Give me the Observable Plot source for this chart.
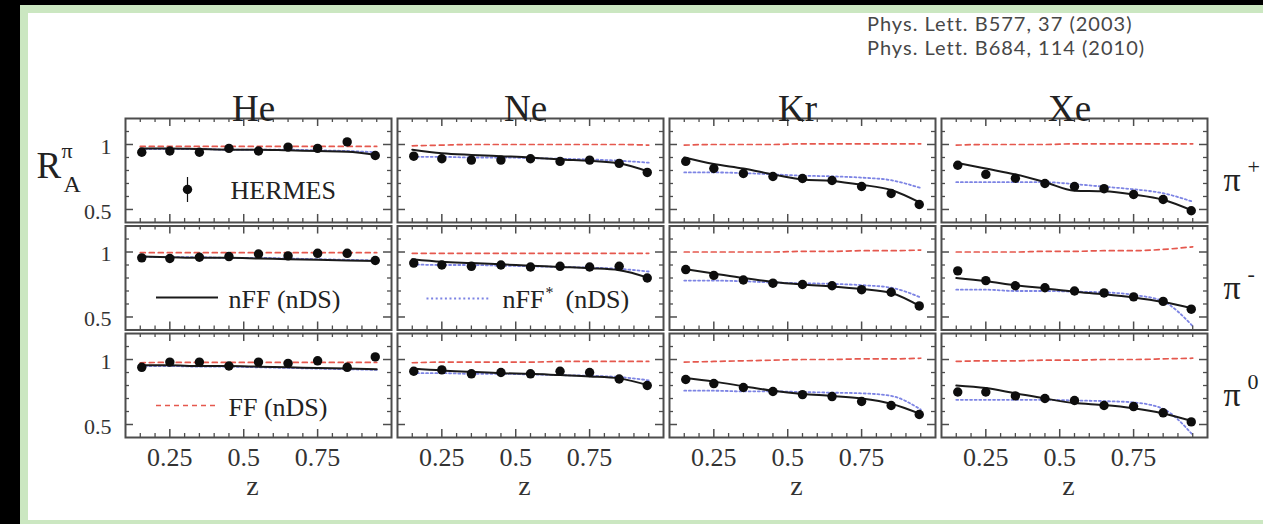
<!DOCTYPE html>
<html>
<head>
<meta charset="utf-8">
<script src="https://cdn.jsdelivr.net/npm/d3@7"></script>
<script src="https://cdn.jsdelivr.net/npm/@observablehq/plot@0.6"></script>
<style>
  html, body { margin: 0; padding: 0; background: #000; width: 1263px; height: 524px; overflow: hidden; }
  #border { position: absolute; left: 20px; top: 5px; width: 1243px; height: 519px; background: #cbe7c1; }
  #paper { position: absolute; left: 28px; top: 13px; width: 1235px; height: 507px; background: #fff; }
  #chart { position: absolute; left: 0; top: 0; }
  #cite { position: absolute; left: 867px; top: 11px; font-family: Lato, "Open Sans", sans-serif; font-size: 20px; letter-spacing: 1px; line-height: 24px; color: #474747; white-space: nowrap; }
</style>
</head>
<body>
<div id="border"></div>
<div id="paper"></div>
<div id="chart"></div>
<div id="cite"><div>Phys. Lett. B577, 37 (2003)</div><div>Phys. Lett. B684, 114 (2010)</div></div>
<script>
// ---------- data ----------
const elements = ["He", "Ne", "Kr", "Xe"];
const mesons = ["π+", "π-", "π0"];
const mesonCharge = ["+", "-", "0"];

const zBins = [0.155, 0.25, 0.35, 0.45, 0.55, 0.65, 0.75, 0.85, 0.945];
const zModel = [0.15, 0.25, 0.35, 0.45, 0.55, 0.65, 0.75, 0.85, 0.95];

// HERMES R_A (rows: π+, π-, π0)
const hermesHe = [
  [0.94, 0.95, 0.94, 0.97, 0.95, 0.98, 0.97, 1.02, 0.915],
  [0.955, 0.95, 0.96, 0.965, 0.985, 0.97, 0.99, 0.99, 0.935],
  [0.94, 0.98, 0.98, 0.95, 0.98, 0.97, 0.99, 0.94, 1.02]
];
const hermesNe = [
  [0.91, 0.89, 0.88, 0.88, 0.89, 0.87, 0.88, 0.855, 0.785],
  [0.915, 0.90, 0.89, 0.90, 0.885, 0.89, 0.885, 0.89, 0.80],
  [0.91, 0.92, 0.89, 0.90, 0.89, 0.91, 0.90, 0.85, 0.80]
];
const hermesKr = [
  [0.87, 0.815, 0.777, 0.754, 0.738, 0.723, 0.677, 0.623, 0.538],
  [0.865, 0.82, 0.785, 0.76, 0.75, 0.74, 0.71, 0.69, 0.585],
  [0.846, 0.815, 0.785, 0.754, 0.73, 0.715, 0.677, 0.646, 0.577]
];
const hermesXe = [
  [0.84, 0.77, 0.74, 0.70, 0.677, 0.66, 0.615, 0.577, 0.49],
  [0.855, 0.78, 0.74, 0.725, 0.70, 0.685, 0.655, 0.62, 0.56],
  [0.75, 0.75, 0.72, 0.70, 0.685, 0.646, 0.638, 0.59, 0.52]
];

// nFF (nDS) — solid
const nffHe = [
  [0.97, 0.97, 0.965, 0.96, 0.96, 0.955, 0.95, 0.945, 0.92],
  [0.965, 0.96, 0.955, 0.955, 0.95, 0.945, 0.94, 0.935, 0.93],
  [0.955, 0.955, 0.95, 0.95, 0.945, 0.94, 0.935, 0.93, 0.925]
];
const nffNe = [
  [0.96, 0.933, 0.92, 0.91, 0.90, 0.885, 0.875, 0.855, 0.79],
  [0.945, 0.925, 0.915, 0.905, 0.895, 0.885, 0.875, 0.86, 0.80],
  [0.93, 0.915, 0.905, 0.895, 0.89, 0.88, 0.87, 0.855, 0.80]
];
const nffKr = [
  [0.90, 0.85, 0.815, 0.77, 0.73, 0.72, 0.69, 0.65, 0.55],
  [0.87, 0.835, 0.80, 0.77, 0.75, 0.735, 0.715, 0.685, 0.58],
  [0.86, 0.83, 0.795, 0.76, 0.735, 0.72, 0.70, 0.66, 0.58]
];
const nffXe = [
  [0.86, 0.815, 0.77, 0.71, 0.645, 0.64, 0.615, 0.575, 0.49],
  [0.80, 0.775, 0.745, 0.72, 0.695, 0.675, 0.65, 0.615, 0.565],
  [0.80, 0.78, 0.74, 0.70, 0.665, 0.65, 0.625, 0.585, 0.525]
];

// nFF* (nDS) — dotted
const nffStarHe = [
  [0.965, 0.965, 0.965, 0.96, 0.96, 0.96, 0.955, 0.95, 0.94],
  [0.965, 0.96, 0.96, 0.955, 0.955, 0.95, 0.945, 0.94, 0.935],
  [0.95, 0.95, 0.945, 0.945, 0.94, 0.935, 0.93, 0.925, 0.92]
];
const nffStarNe = [
  [0.905, 0.905, 0.90, 0.90, 0.895, 0.89, 0.885, 0.875, 0.86],
  [0.905, 0.90, 0.90, 0.895, 0.89, 0.885, 0.88, 0.87, 0.85],
  [0.895, 0.895, 0.89, 0.89, 0.885, 0.88, 0.875, 0.865, 0.84]
];
const nffStarKr = [
  [0.785, 0.785, 0.78, 0.77, 0.76, 0.755, 0.745, 0.725, 0.665],
  [0.78, 0.78, 0.775, 0.765, 0.76, 0.755, 0.745, 0.725, 0.65],
  [0.76, 0.76, 0.755, 0.755, 0.75, 0.745, 0.74, 0.72, 0.615]
];
const nffStarXe = [
  [0.71, 0.71, 0.71, 0.71, 0.695, 0.675, 0.655, 0.625, 0.56],
  [0.71, 0.71, 0.70, 0.70, 0.695, 0.69, 0.67, 0.62, 0.43],
  [0.69, 0.69, 0.69, 0.69, 0.685, 0.68, 0.67, 0.62, 0.42]
];

// FF (nDS) — dashed
const ffHe = [
  [0.985, 0.985, 0.985, 0.985, 0.985, 0.985, 0.985, 0.985, 0.985],
  [0.995, 0.995, 0.995, 0.995, 0.995, 0.995, 0.995, 0.995, 0.995],
  [0.975, 0.978, 0.978, 0.978, 0.978, 0.978, 0.978, 0.978, 0.978]
];
const ffNe = [
  [0.99, 0.995, 1.0, 1.0, 1.0, 1.0, 1.0, 1.0, 0.995],
  [0.99, 0.99, 0.99, 0.99, 0.99, 0.99, 0.99, 0.99, 0.99],
  [0.975, 0.98, 0.98, 0.98, 0.98, 0.985, 0.985, 0.985, 0.985]
];
const ffKr = [
  [0.995, 1.0, 1.0, 1.0, 1.005, 1.005, 1.005, 1.005, 1.005],
  [1.0, 1.0, 1.0, 1.0, 1.005, 1.005, 1.01, 1.01, 1.015],
  [0.98, 0.985, 0.99, 0.995, 1.0, 1.0, 1.005, 1.005, 1.01]
];
const ffXe = [
  [0.995, 1.0, 1.0, 1.0, 1.005, 1.005, 1.005, 1.005, 1.005],
  [1.0, 1.0, 1.0, 1.005, 1.005, 1.01, 1.01, 1.02, 1.04],
  [0.985, 0.99, 0.99, 0.995, 0.995, 1.0, 1.0, 1.005, 1.01]
];

// axis ticks
const xLabelTicks = [0.25, 0.5, 0.75];
const xMinorTicks = [0.15, 0.2, 0.3, 0.35, 0.4, 0.45, 0.55, 0.6, 0.65, 0.7, 0.8, 0.85, 0.9, 0.95];
const yLabelTicks = [0.5, 1];
const yMinorTicks = [0.6, 0.7, 0.8, 0.9, 1.1];

// legend labels
const legendHermes = ["HERMES"];
const legendNff = ["nFF (nDS)"];
const legendFf = ["FF (nDS)"];
const legendNffStar = ["nFF", "*", "(nDS)"];

// ---------- tables ----------
function toRows(tables, zs) {
  return elements.flatMap((e, ei) => tables[ei].flatMap((vals, mi) =>
    vals.map((R, k) => ({element: e, meson: mesons[mi], z: zs[k], R}))));
}
const hermesRows = toRows([hermesHe, hermesNe, hermesKr, hermesXe], zBins);
const nffRows = toRows([nffHe, nffNe, nffKr, nffXe], zModel);
const nffStarRows = toRows([nffStarHe, nffStarNe, nffStarKr, nffStarXe], zModel);
const ffRows = toRows([ffHe, ffNe, ffKr, ffXe], zModel);

// ---------- layout ----------
const W = 1263, H = 524;
const mL = 125, mR = 56, mT = 118, mB = 87;
const padX = 0.022, padY = 0.033;
const colW = (W - mL - mR) / (elements.length - padX) * (1 - padX);
const rowH = (H - mT - mB) / (mesons.length - padY) * (1 - padY);
const serif = "'Liberation Serif', 'Times New Roman', serif";
const axisColor = "#4d4d4d";
const red = "#e5584e", blue = "#7d84e4";

const ch = {x: "z", y: "R", fx: "element", fy: "meson"};

const lineSym = {draw(ctx) { ctx.moveTo(-31, 0); ctx.lineTo(31, 0); }};
const barSym = {draw(ctx) { ctx.moveTo(0, -12.5); ctx.lineTo(0, 12.5); }};

const inPanel = (el, me) => ({fx: () => el, fy: () => me});

const chart = Plot.plot({
  width: W, height: H,
  marginLeft: mL, marginRight: mR, marginTop: mT, marginBottom: mB,
  style: {background: "transparent", fontFamily: serif, color: "#222", overflow: "visible"},
  fx: {domain: elements, paddingInner: padX, paddingOuter: 0, round: false, axis: null},
  fy: {domain: mesons, paddingInner: padY, paddingOuter: 0, round: false, axis: null},
  x: {domain: [0.1, 1.0]},
  y: {domain: [0.4, 1.2]},
  marks: [
    // model curves
    Plot.line(ffRows, {...ch, stroke: red, strokeWidth: 1.7, strokeDasharray: "5,4", curve: "monotone-x", clip: true}),
    Plot.line(nffStarRows, {...ch, stroke: blue, strokeWidth: 1.8, strokeDasharray: "2,2.6", curve: "monotone-x", clip: true}),
    Plot.line(nffRows, {...ch, stroke: "#1a1a1a", strokeWidth: 2, curve: "monotone-x", clip: true}),
    // data
    Plot.dot(hermesRows, {...ch, r: 4.7, fill: "#0d0d0d"}),

    // inward ticks on all four sides
    Plot.tickX(xMinorTicks, {x: d => d, insetBottom: rowH - 4, stroke: axisColor, strokeWidth: 1.3}),
    Plot.tickX(xMinorTicks, {x: d => d, insetTop: rowH - 4, stroke: axisColor, strokeWidth: 1.3}),
    Plot.tickX(xLabelTicks, {x: d => d, insetBottom: rowH - 8, stroke: axisColor, strokeWidth: 1.5}),
    Plot.tickX(xLabelTicks, {x: d => d, insetTop: rowH - 8, stroke: axisColor, strokeWidth: 1.5}),
    Plot.tickY(yMinorTicks, {y: d => d, insetRight: colW - 4, stroke: axisColor, strokeWidth: 1.3}),
    Plot.tickY(yMinorTicks, {y: d => d, insetLeft: colW - 4, stroke: axisColor, strokeWidth: 1.3}),
    Plot.tickY(yLabelTicks, {y: d => d, insetRight: colW - 8, stroke: axisColor, strokeWidth: 1.5}),
    Plot.tickY(yLabelTicks, {y: d => d, insetLeft: colW - 8, stroke: axisColor, strokeWidth: 1.5}),
    Plot.frame({stroke: axisColor, strokeWidth: 2}),

    // axes
    Plot.axisX({ticks: xLabelTicks, tickFormat: d => String(d), tickSize: 0, tickPadding: 10, fontSize: 26, label: null, anchor: "bottom", facetAnchor: "bottom", fill: "#333"}),
    Plot.axisY({ticks: yLabelTicks, tickFormat: d => String(d), tickSize: 0, tickPadding: 14, fontSize: 22, label: null, anchor: "left", facetAnchor: "left", fill: "#333", dy: 2}),
    Plot.text(elements, {fx: d => d, fy: () => mesons[0], text: d => d, frameAnchor: "top", dy: -23.5, dx: -5, fontSize: 37, fill: "#222"}),
    Plot.text(elements, {fx: d => d, fy: () => mesons[2], text: () => "z", frameAnchor: "bottom", dy: 57, dx: -6, fontSize: 28, fill: "#333"}),
    Plot.text(mesons, {fy: d => d, fx: () => elements[3], text: () => "π", frameAnchor: "right", textAnchor: "start", dx: 16, dy: 10, fontSize: 34, fill: "#222"}),
    Plot.text(mesonCharge, {fy: (d, i) => mesons[i], fx: () => elements[3], text: d => d, frameAnchor: "right", textAnchor: "start", dx: 40, dy: -4, fontSize: 22, fill: "#222"}),
    Plot.text(["R"], {...inPanel(elements[0], mesons[0]), text: d => d, frameAnchor: "left", textAnchor: "start", dx: -89, dy: -4.5, fontSize: 37, fill: "#222"}),
    Plot.text(["π"], {...inPanel(elements[0], mesons[0]), text: d => d, frameAnchor: "left", textAnchor: "start", dx: -64, dy: -20, fontSize: 22, fill: "#222"}),
    Plot.text(["A"], {...inPanel(elements[0], mesons[0]), text: d => d, frameAnchor: "left", textAnchor: "start", dx: -62, dy: 14, fontSize: 24, fill: "#222"}),

    // legends
    Plot.dot(legendHermes, {...inPanel(elements[0], mesons[0]), frameAnchor: "left", dx: 62, dy: 19, symbol: barSym, stroke: "#111", strokeWidth: 1.2}),
    Plot.dot(legendHermes, {...inPanel(elements[0], mesons[0]), frameAnchor: "left", dx: 62, dy: 19, r: 4.7, fill: "#0d0d0d"}),
    Plot.text(legendHermes, {...inPanel(elements[0], mesons[0]), text: d => d, frameAnchor: "left", textAnchor: "start", dx: 105, dy: 20.5, fontSize: 26, fill: "#222"}),
    Plot.dot(legendNff, {...inPanel(elements[0], mesons[1]), frameAnchor: "left", dx: 61.5, dy: 19.5, symbol: lineSym, stroke: "#1a1a1a", strokeWidth: 2}),
    Plot.text(legendNff, {...inPanel(elements[0], mesons[1]), text: d => d, frameAnchor: "left", textAnchor: "start", dx: 103, dy: 22, fontSize: 26, fill: "#222"}),
    Plot.dot(legendFf, {...inPanel(elements[0], mesons[2]), frameAnchor: "left", dx: 61.5, dy: 20, symbol: lineSym, stroke: red, strokeWidth: 1.7, strokeDasharray: "5,4"}),
    Plot.text(legendFf, {...inPanel(elements[0], mesons[2]), text: d => d, frameAnchor: "left", textAnchor: "start", dx: 103, dy: 22, fontSize: 26, fill: "#222"}),
    Plot.dot(legendNffStar.slice(0, 1), {...inPanel(elements[1], mesons[1]), frameAnchor: "left", dx: 60, dy: 20.5, symbol: lineSym, stroke: blue, strokeWidth: 1.8, strokeDasharray: "2,2.6"}),
    Plot.text(legendNffStar.slice(0, 1), {...inPanel(elements[1], mesons[1]), text: d => d, frameAnchor: "left", textAnchor: "start", dx: 105, dy: 22, fontSize: 26, fill: "#222"}),
    Plot.text(legendNffStar.slice(1, 2), {...inPanel(elements[1], mesons[1]), text: d => d, frameAnchor: "left", textAnchor: "start", dx: 148, dy: 15, fontSize: 16, fill: "#222"}),
    Plot.text(legendNffStar.slice(2, 3), {...inPanel(elements[1], mesons[1]), text: d => d, frameAnchor: "left", textAnchor: "start", dx: 168, dy: 22, fontSize: 26, fill: "#222"})
  ]
});
document.getElementById("chart").append(chart);
</script>
</body>
</html>
